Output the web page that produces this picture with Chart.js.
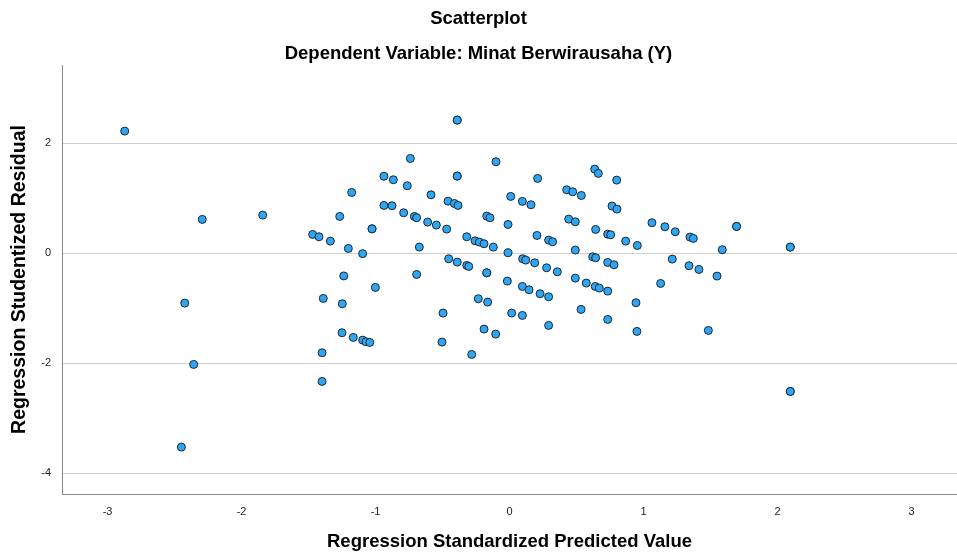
<!DOCTYPE html>
<html>
<head>
<meta charset="utf-8">
<script src="https://cdn.jsdelivr.net/npm/chart.js@4/dist/chart.umd.min.js"></script>
<style>
  html, body { margin: 0; padding: 0; background: #fff; overflow: hidden; }
  #wrap { width: 957px; height: 554px; }
</style>
</head>
<body>
<div id="wrap"><canvas id="scatterChart"></canvas></div>
<script>
// Regression standardized predicted value (x) vs studentized residual (y)
const predicted = [
  -2.872, -2.293, -1.842, -1.469, -1.422, -1.337, -1.267, -1.178, -1.203, -1.237,
  -1.096, -0.390, -0.390, -0.740, -0.101, -0.937, -0.867, -0.763, -0.390, -0.390,
  0.210, 0.636, 0.663, 0.800, -0.586, -0.459, -0.412, -0.384, 0.009, 0.096,
  0.160, 0.427, 0.472, 0.536, 0.765, 0.802, -0.937, -0.877, -0.790, -0.710,
  -0.693, -0.611, -0.546, -0.469, -1.026, -1.026, -0.170, -0.146, -0.011, -0.319,
  -0.257, -0.225, -0.190, -0.121, -0.673, 0.205, 0.292, 0.322, 0.442, 0.491,
  0.643, 0.733, 0.755, 0.867, 0.954, 0.491, -0.011, -0.454, -0.390, -0.319,
  -0.304, 0.098, 0.121, 0.188, 0.277, 0.357, 0.621, 0.643, 0.733, 0.780,
  -0.693, -0.170, -0.170, 0.491, 1.063, 1.160, 1.237, 1.347, 1.372, 1.695,
  1.695, 1.588, 2.096, 2.096, 1.215, 1.340, 1.414, 1.549, -1.390, -1.248,
  -1.250, -1.166, -1.399, -1.399, -2.424, -2.357, -2.449, -1.001, -1.096, -1.071,
  -1.043, -0.016, 0.096, 0.146, 0.228, 0.292, 0.573, 0.640, 0.670, 0.733,
  0.944, -0.233, -0.163, -0.496, 0.016, 0.096, 0.534, 0.733, 0.292, -0.190,
  -0.103, 0.951, -0.504, -0.282, 1.128, 1.484, 2.096, 2.096
];
const residual = [
  2.218, 0.613, 0.691, 0.340, 0.297, 0.218, 0.667, 1.103, 0.085, -0.415,
  -0.010, 2.418, 2.418, 1.721, 1.661, 1.397, 1.333, 1.224, 1.400, 1.400,
  1.358, 1.527, 1.449, 1.327, 1.060, 0.945, 0.903, 0.867, 1.031, 0.940,
  0.879, 1.151, 1.115, 1.048, 0.855, 0.800, 0.867, 0.861, 0.733, 0.667,
  0.643, 0.564, 0.509, 0.436, 0.442, 0.442, 0.673, 0.643, 0.521, 0.297,
  0.224, 0.200, 0.170, 0.109, 0.109, 0.321, 0.236, 0.206, 0.618, 0.570,
  0.430, 0.345, 0.333, 0.218, 0.139, 0.055, 0.006, -0.103, -0.164, -0.224,
  -0.242, -0.103, -0.127, -0.176, -0.267, -0.339, -0.067, -0.085, -0.170, -0.212,
  -0.388, -0.358, -0.358, -0.455, 0.552, 0.479, 0.388, 0.291, 0.267, 0.485,
  0.485, 0.061, 0.109, 0.109, -0.109, -0.230, -0.297, -0.418, -0.824, -0.921,
  -1.448, -1.533, -1.812, -2.333, -0.909, -2.024, -3.527, -0.624, -1.582, -1.612,
  -1.624, -0.509, -0.606, -0.667, -0.739, -0.794, -0.545, -0.606, -0.636, -0.691,
  -0.903, -0.830, -0.891, -1.091, -1.091, -1.133, -1.024, -1.206, -1.315, -1.382,
  -1.473, -1.424, -1.618, -1.842, -0.552, -1.406, -2.515, -2.515
];
const xTicks = [-3, -2, -1, 0, 1, 2, 3];
const yTicks = [-4, -2, 0, 2];

const fontFamily = 'Arial, "Liberation Sans", sans-serif';

const chart = new Chart(document.getElementById('scatterChart'), {
    type: 'scatter',
    data: {
        datasets: [{
            data: predicted.map((x, i) => ({ x: x, y: residual[i] })),
            backgroundColor: '#2ea6f3',
            borderColor: '#1b2733',
            borderWidth: 1,
            pointRadius: 4,
            pointHoverRadius: 4
        }]
    },
    options: {
        responsive: true,
        maintainAspectRatio: false,
        animation: false,
        layout: { padding: 0, autoPadding: false },
        plugins: {
            legend: { display: false },
            tooltip: { enabled: false },
            title: {
                display: true,
                text: 'Scatterplot',
                color: '#000',
                font: { family: fontFamily, size: 18.5, weight: 'bold' },
                padding: { top: 8, bottom: 6 }
            },
            subtitle: {
                display: true,
                text: 'Dependent Variable: Minat Berwirausaha (Y)',
                color: '#000',
                font: { family: fontFamily, size: 18.5, weight: 'bold' },
                padding: { top: 6.6, bottom: 0 }
            }
        },
        scales: {
            x: {
                type: 'linear',
                min: -3.34,
                max: 3.34,
                afterBuildTicks: scale => { scale.ticks = xTicks.map(v => ({ value: v })); },
                afterFit: scale => { scale.height = 60; },
                grid: { display: false, drawTicks: false },
                border: { display: true, color: '#8a8a8a', width: 1 },
                ticks: {
                    color: '#222',
                    padding: 11,
                    font: { family: fontFamily, size: 11 },
                    maxRotation: 0
                },
                title: {
                    display: true,
                    text: 'Regression Standardized Predicted Value',
                    color: '#000',
                    font: { family: fontFamily, size: 18.5, weight: 'bold' },
                    padding: { top: 0, bottom: 1 }
                }
            },
            y: {
                type: 'linear',
                min: -4.38,
                max: 3.42,
                afterBuildTicks: scale => { scale.ticks = yTicks.map(v => ({ value: v })); },
                afterFit: scale => { scale.width = 62; },
                grid: { color: '#cfcfcf', lineWidth: 1, drawTicks: false },
                border: { display: true, color: '#8a8a8a', width: 1 },
                ticks: {
                    color: '#222',
                    padding: 11,
                    font: { family: fontFamily, size: 11 }
                },
                title: {
                    display: true,
                    text: 'Regression Studentized Residual',
                    color: '#000',
                    font: { family: fontFamily, size: 19.5, weight: 'bold' },
                    padding: { top: 8, bottom: 0 }
                }
            }
        }
    }
});
</script>
</body>
</html>
